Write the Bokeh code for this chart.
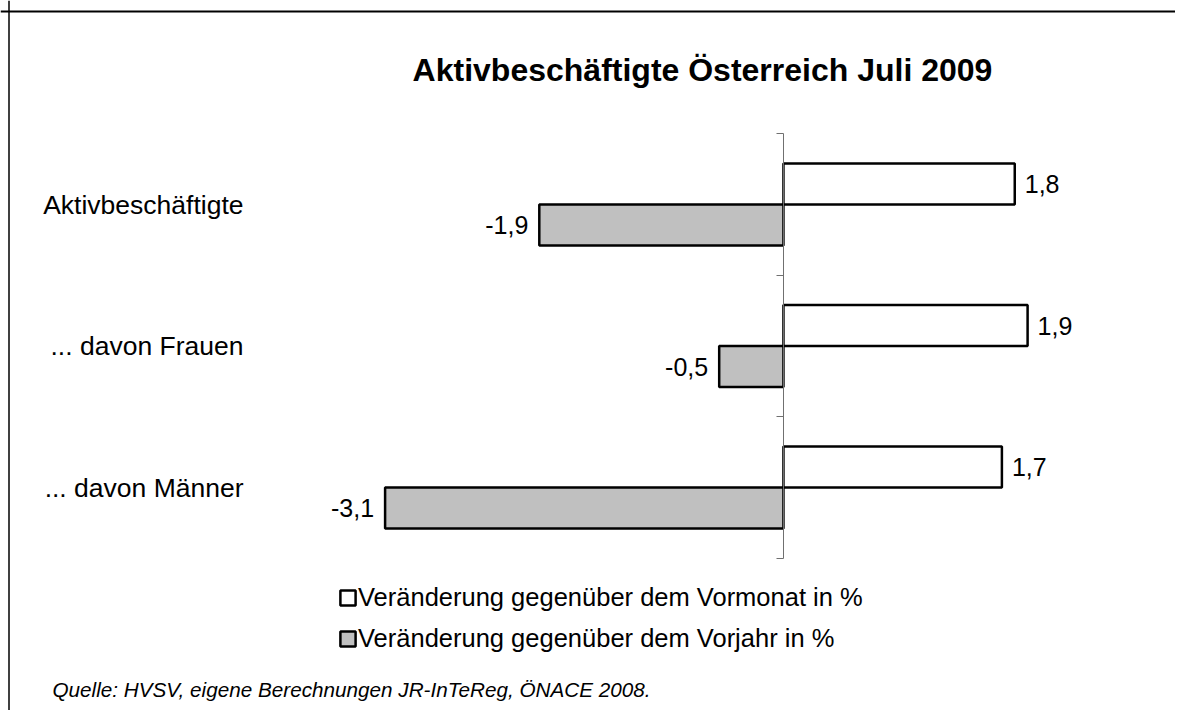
from bokeh.plotting import figure
from bokeh.models import (Range1d, LinearAxis, FixedTicker, Legend, LegendItem,
                          Label, Span, ColumnDataSource)
from bokeh.transform import dodge
from bokeh.core.properties import value
from bokeh.embed import file_html
from bokeh.resources import INLINE

# ---- data ----
categories = ["Aktivbeschäftigte", "... davon Frauen", "... davon Männer"]
vormonat = [1.8, 1.9, 1.7]
vorjahr = [-1.9, -0.5, -3.1]
series_names = ["Veränderung gegenüber dem Vormonat in %",
                "Veränderung gegenüber dem Vorjahr in %"]
title_text = "Aktivbeschäftigte Österreich Juli 2009"
source_text = "Quelle: HVSV, eigene Berechnungen JR-InTeReg, ÖNACE 2008."

FONT = "Liberation Sans"

def fmt(v):
    return f"{v:.1f}".replace(".", ",")

pos = list(range(len(categories)))
src = ColumnDataSource(dict(
    y=pos, cat=categories, vm=vormonat, vj=vorjahr,
    vm_lbl=[fmt(v) for v in vormonat], vj_lbl=[fmt(v) for v in vorjahr],
))

W, H = 1175, 710
p = figure(width=W, height=H,
           x_range=Range1d(-6.093, 3.051), y_range=Range1d(3.576, -1.442),
           output_backend="svg", toolbar_location=None,
           x_axis_location=None, y_axis_location=None, min_border=0)
p.outline_line_color = None
p.xgrid.visible = False
p.ygrid.visible = False
p.background_fill_color = "white"
p.border_fill_color = "white"

off = 0.145
bh = 0.29
r1 = p.hbar(y=dodge("y", -off), left=0, right="vm", height=bh, source=src,
            fill_color="white", line_color="black", line_width=2.5)
r2 = p.hbar(y=dodge("y", off), left=0, right="vj", height=bh, source=src,
            fill_color="#c0c0c0", line_color="black", line_width=2.5)

p.text(x="vm", y=dodge("y", -off), text="vm_lbl", source=src, x_offset=10,
       text_align="left", text_baseline="middle", text_font=value(FONT),
       text_font_size="25px", text_color="black")
p.text(x="vj", y=dodge("y", off), text="vj_lbl", source=src, x_offset=-11,
       text_align="right", text_baseline="middle", text_font=value(FONT),
       text_font_size="25px", text_color="black")

# vertical axis at x = 0 with ticks on category boundaries
ax0 = LinearAxis(fixed_location=0,
                 ticker=FixedTicker(ticks=[-0.5, 0.5, 1.5, 2.5]),
                 bounds=(-0.5, 2.5))
ax0.major_label_text_alpha = 0
ax0.major_label_text_font_size = "1px"
ax0.major_tick_out = 7
ax0.major_tick_in = 0
ax0.minor_tick_out = 0
ax0.minor_tick_in = 0
ax0.axis_line_color = "#707070"
ax0.major_tick_line_color = "#707070"
ax0.axis_line_width = 1
p.add_layout(ax0, "left")

# category labels
axc = LinearAxis(fixed_location=-4.202, ticker=FixedTicker(ticks=pos),
                 major_label_overrides={i: c for i, c in enumerate(categories)})
axc.axis_line_color = None
axc.major_tick_line_color = None
axc.minor_tick_line_color = None
axc.major_tick_out = 0
axc.major_tick_in = 0
axc.major_label_standoff = 0
axc.major_label_text_font = FONT
axc.major_label_text_font_size = "26.5px"
axc.major_label_text_color = "black"
p.add_layout(axc, "left")

# legend
legend = Legend(items=[LegendItem(label=series_names[0], renderers=[r1]),
                       LegendItem(label=series_names[1], renderers=[r2])],
                location=(338, 57), orientation="vertical")
legend.border_line_color = None
legend.background_fill_alpha = 0
legend.margin = 0
legend.padding = 0
legend.glyph_width = 19
legend.glyph_height = 19
legend.label_height = 30
legend.spacing = 11
legend.label_standoff = 1
legend.label_text_font = FONT
legend.label_text_font_size = "25.5px"
legend.label_text_color = "black"
p.add_layout(legend, "center")

# title and source
p.add_layout(Label(x=702, y=H - 69, x_units="screen", y_units="screen",
                   text=title_text, text_align="center",
                   text_baseline="alphabetic", text_font=FONT,
                   text_font_size="32px", text_font_style="bold",
                   text_color="black"))
p.add_layout(Label(x=52, y=H - 689, x_units="screen", y_units="screen",
                   text=source_text, text_align="left",
                   text_baseline="alphabetic", text_font=FONT,
                   text_font_size="20.7px", text_font_style="italic",
                   text_color="black"))

# outer frame (top and left edges)
p.add_layout(Span(location=H - 11, location_units="screen", dimension="width",
                  line_color="black", line_width=2))
p.add_layout(Span(location=8.5, location_units="screen", dimension="height",
                  line_color="black", line_width=1.5))

open("out.html", "w").write(file_html(p, INLINE))
